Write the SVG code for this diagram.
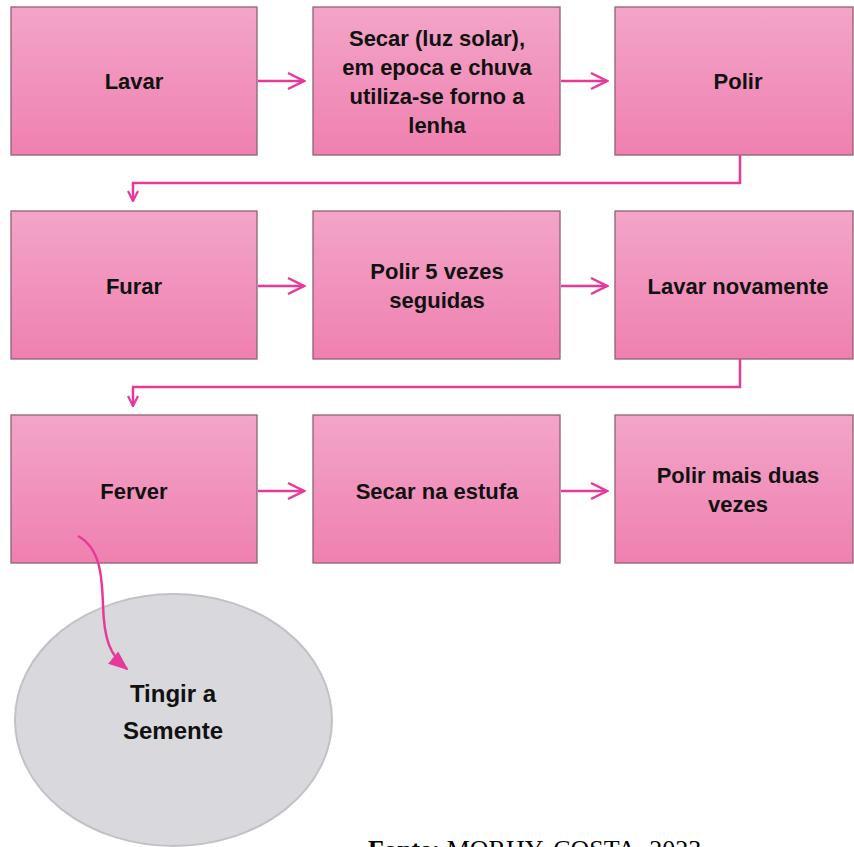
<svg xmlns="http://www.w3.org/2000/svg" width="854" height="847" viewBox="0 0 854 847">
<defs>
<linearGradient id="pk" x1="0" y1="0" x2="0" y2="1">
<stop offset="0" stop-color="#f3a5c8"/>
<stop offset="1" stop-color="#ef80b0"/>
</linearGradient>
<marker id="open" viewBox="0 0 12 12" refX="11" refY="6" markerWidth="12" markerHeight="12" markerUnits="userSpaceOnUse" orient="auto">
<path d="M1,1 L11,6 L1,11" fill="none" stroke="#e8399a" stroke-width="2.2"/>
</marker>
<marker id="openbig" viewBox="0 0 20 20" refX="18" refY="10" markerWidth="20" markerHeight="20" markerUnits="userSpaceOnUse" orient="auto">
<path d="M2,2 L18,10 L2,18" fill="none" stroke="#e8399a" stroke-width="2.5"/>
</marker>
<marker id="solid" viewBox="0 0 20 20" refX="18" refY="10" markerWidth="20" markerHeight="20" markerUnits="userSpaceOnUse" orient="auto">
<path d="M0,2 L20,10 L0,18 Z" fill="#e8399a"/>
</marker>
</defs>
<style>
.box{fill:url(#pk);stroke:#8e6275;stroke-width:1.3}
.t{font-family:"Liberation Sans",Arial,sans-serif;font-weight:bold;font-size:22px;fill:#111;text-anchor:middle}
.c{fill:none;stroke:#e8399a;stroke-width:2.5}
</style>
<rect width="854" height="847" fill="#fff"/>
<g id="n1"><rect class="box" x="11" y="7" width="246" height="148"/><text class="t" x="134" y="89">Lavar</text></g>
<g id="n2"><rect class="box" x="313" y="7" width="247" height="148"/><text class="t" x="437" y="46">Secar (luz solar),</text><text class="t" x="437" y="75">em epoca e chuva</text><text class="t" x="437" y="104">utiliza-se forno a</text><text class="t" x="437" y="133">lenha</text></g>
<g id="n3"><rect class="box" x="615" y="7" width="238" height="148"/><text class="t" x="738" y="89">Polir</text></g>
<g id="n4"><rect class="box" x="11" y="211" width="246" height="148"/><text class="t" x="134" y="294">Furar</text></g>
<g id="n5"><rect class="box" x="313" y="211" width="247" height="148"/><text class="t" x="437" y="279">Polir 5 vezes</text><text class="t" x="437" y="308">seguidas</text></g>
<g id="n6"><rect class="box" x="615" y="211" width="238" height="148"/><text class="t" x="738" y="294">Lavar novamente</text></g>
<g id="n7"><rect class="box" x="11" y="415" width="246" height="148"/><text class="t" x="134" y="499">Ferver</text></g>
<g id="n8"><rect class="box" x="313" y="415" width="247" height="148"/><text class="t" x="437" y="499">Secar na estufa</text></g>
<g id="n9"><rect class="box" x="615" y="415" width="238" height="148"/><text class="t" x="738" y="483">Polir mais duas</text><text class="t" x="738" y="512">vezes</text></g>
<g id="n10"><ellipse cx="173.5" cy="720" rx="158.5" ry="126" fill="#d9d8dc" stroke="#c2c1c6" stroke-width="2"/><text class="t" x="173" y="702" style="font-size:24px">Tingir a</text><text class="t" x="173" y="739" style="font-size:24px">Semente</text></g>
<g id="connectors">
<path class="c" d="M258,81 H304" marker-end="url(#openbig)"/>
<path class="c" d="M561,81 H607" marker-end="url(#openbig)"/>
<path class="c" d="M258,286 H304" marker-end="url(#openbig)"/>
<path class="c" d="M561,286 H607" marker-end="url(#openbig)"/>
<path class="c" d="M258,491 H304" marker-end="url(#openbig)"/>
<path class="c" d="M561,491 H607" marker-end="url(#openbig)"/>
<path class="c" d="M740,155 V183 H133 V201" marker-end="url(#open)"/>
<path class="c" d="M740,359 V387 H133 V406" marker-end="url(#open)"/>
<path class="c" d="M78,536 C100,548 102,575 103,605 C104,640 110,655 127,669" marker-end="url(#solid)"/>
</g>
<text x="368" y="858" font-family="Liberation Serif,'Times New Roman',serif" font-size="26" fill="#000"><tspan font-weight="bold">Fonte:</tspan> MORHY, COSTA, 2023</text>
</svg>
